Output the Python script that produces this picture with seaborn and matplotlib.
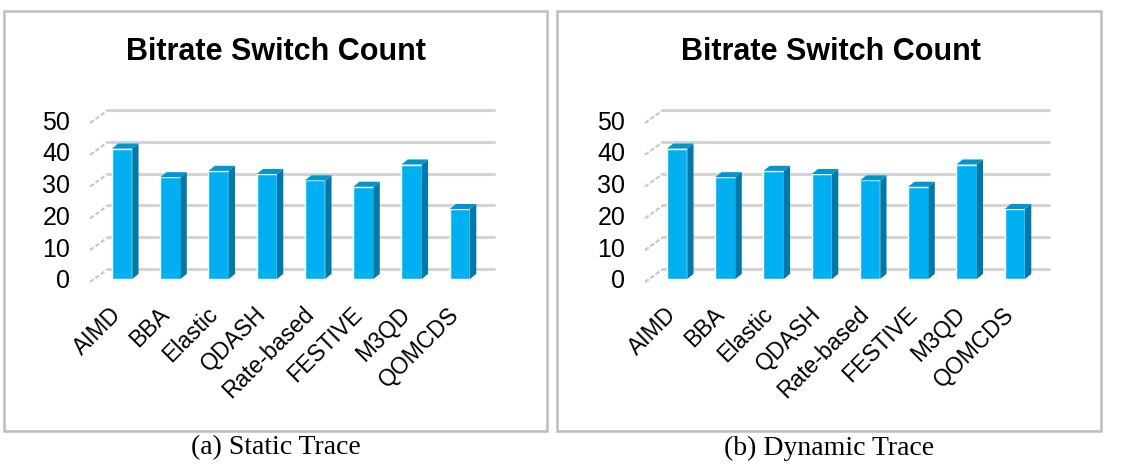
import matplotlib
matplotlib.use("Agg")
import matplotlib.pyplot as plt
import matplotlib.transforms as mtransforms
from matplotlib.patches import Polygon, Rectangle
from matplotlib.lines import Line2D
import seaborn as sns
import pandas as pd

# datos
algorithms = ["AIMD", "BBA", "Elastic", "QDASH", "Rate-based", "FESTIVE", "M3QD", "QOMCDS"]
static_switches = [41, 32, 34, 33, 31, 29, 36, 22]
dynamic_switches = [41, 32, 34, 33, 31, 29, 36, 22]
y_ticks = [0, 10, 20, 30, 40, 50]
panel_title = "Bitrate Switch Count"
captions = ["(a) Static Trace", "(b) Dynamic Trace"]

front_color = "#00B0F0"
side_color = "#0079A8"
top_color = "#0096CE"
grid_color = "#D4D4D4"


def draw_panel(fig, ax, values):
    df = pd.DataFrame({"algo": algorithms, "count": values})
    sns.barplot(data=df, x="algo", y="count", color=front_color, saturation=1,
                width=0.42, ax=ax, zorder=3)
    ax.set_xlim(-0.5, len(algorithms) - 0.5)
    ax.set_ylim(0, 50)
    ax.set_yticks(y_ticks)
    ax.set_xlabel("")
    ax.set_ylabel("")
    for s in ax.spines.values():
        s.set_visible(False)
    ax.tick_params(axis="y", length=0, pad=20, labelsize=18, labelcolor="black")
    ax.tick_params(axis="x", length=0, pad=17, labelsize=16.5, labelcolor="black")
    shift = mtransforms.ScaledTranslation(-0.13, 0, fig.dpi_scale_trans)
    for lab in ax.get_xticklabels():
        lab.set_rotation(45)
        lab.set_ha("right")
        lab.set_rotation_mode("anchor")
        lab.set_transform(lab.get_transform() + shift)

    # caras laterales y superiores (efecto 3D)
    dx, dy = 0.13, 1.6
    for p in list(ax.patches):
        x0, w, h = p.get_x(), p.get_width(), p.get_height()
        side = Polygon([(x0 + w, 0), (x0 + w + dx, dy), (x0 + w + dx, h + dy), (x0 + w, h)],
                       closed=True, facecolor=side_color, edgecolor="none", zorder=3)
        top = Polygon([(x0, h), (x0 + dx, h + dy), (x0 + w + dx, h + dy), (x0 + w, h)],
                      closed=True, facecolor=top_color, edgecolor="none", zorder=3)
        ax.add_patch(side)
        ax.add_patch(top)

    # lineas de la pared del fondo
    back = ax.get_yaxis_transform() + mtransforms.ScaledTranslation(0.10, 0.10, fig.dpi_scale_trans)
    for t in y_ticks:
        ax.add_line(Line2D([0, 1], [t, t], transform=back, color=grid_color, lw=2.2,
                           zorder=1, clip_on=False))
        x_disp, y_disp = ax.transData.transform((-0.5, t))
        stub = Line2D([x_disp - 8, x_disp + 10], [y_disp - 3, y_disp + 10],
                      transform=mtransforms.IdentityTransform(), color="#C8C8C8",
                      lw=1.6, linestyle=(0, (2, 1)), zorder=1)
        fig.add_artist(stub)


def main():
    sns.set_style("white")
    plt.rcParams["font.family"] = ["Liberation Sans", "DejaVu Sans"]

    fig = plt.figure(figsize=(11.21, 4.66), dpi=100)
    W, H = 1121.0, 466.0

    boxes = [(4, 547), (557, 1101)]
    axes_left = [98, 653]
    for i, values in enumerate([static_switches, dynamic_switches]):
        x0, x1 = boxes[i]
        fig.add_artist(Rectangle((x0 / W, 1 - 431 / H), (x1 - x0) / W, 420 / H,
                                 transform=fig.transFigure, facecolor="none",
                                 edgecolor="#BDBDBD", lw=1.8))
        ax = fig.add_axes([axes_left[i] / W, 1 - 279 / H, 386 / W, 159 / H])
        ax.patch.set_alpha(0)
        fig.canvas.draw()
        draw_panel(fig, ax, values)
        cx = (axes_left[i] + 178) / W
        fig.text(cx, 1 - 52 / H, panel_title, ha="center", va="center",
                 fontsize=22, fontweight="bold", color="black")
        fig.text((x0 + x1) / 2 / W, 1 - 448 / H, captions[i], ha="center", va="center",
                 fontsize=20, color="black", family=["Liberation Serif", "DejaVu Serif"])

    fig.savefig("out.png", dpi=100)


if __name__ == "__main__":
    main()
